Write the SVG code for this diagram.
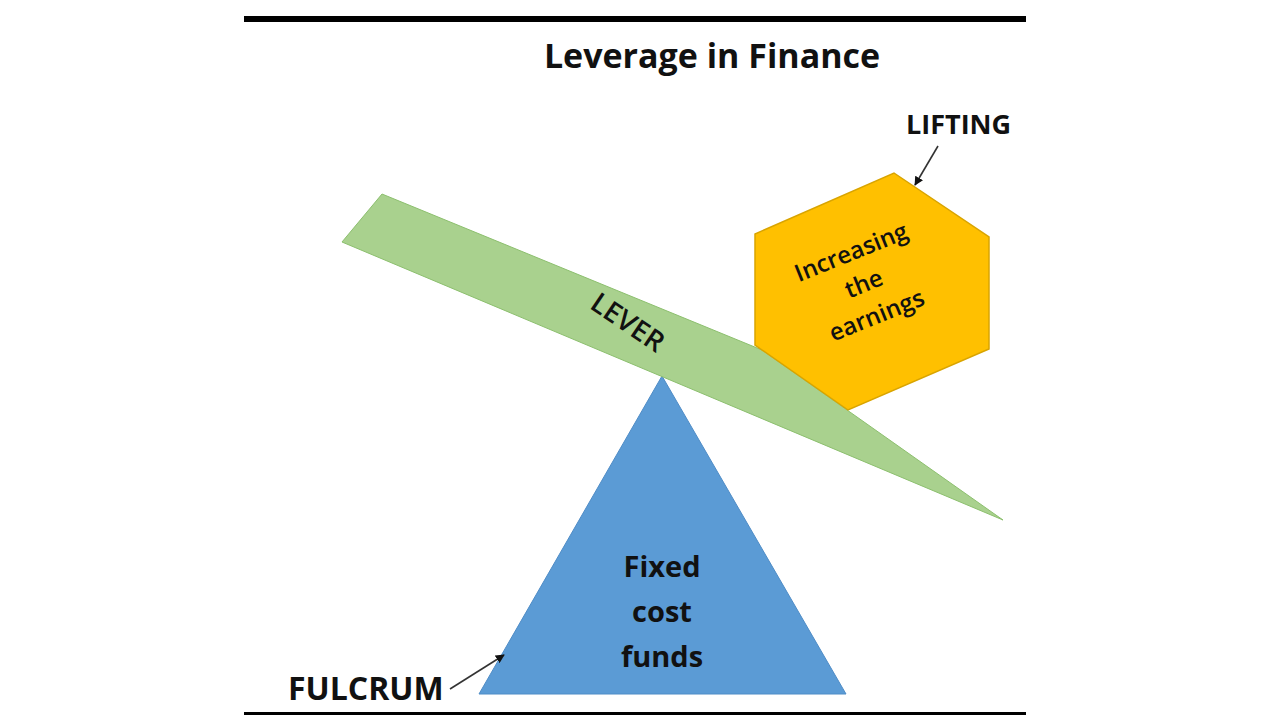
<svg xmlns="http://www.w3.org/2000/svg" width="1280" height="720" viewBox="0 0 1280 720">
<defs>
<style>
.t{font-family:"Open Sans","Liberation Sans",sans-serif;fill:#111;}
.b{font-weight:700;}
.m{font-weight:600;}
.c{text-anchor:middle;}
.conn{stroke:#333;stroke-width:1.6;fill:none;marker-end:url(#ah);}
</style>
<marker id="ah" viewBox="0 0 10 10" refX="9" refY="5" markerWidth="9" markerHeight="9" markerUnits="userSpaceOnUse" orient="auto">
<path d="M0,0 L10,5 L0,10 z" fill="#111"/>
</marker>
</defs>
<rect width="1280" height="720" fill="#fff"/>
<rect x="244" y="16" width="782" height="6" fill="#000"/>
<rect x="244" y="712" width="782" height="3" fill="#000"/>
<text class="t b c" x="712" y="68" font-size="34">Leverage in Finance</text>

<g id="fulcrum">
<polygon points="662,376 479,694 846,694" fill="#5B9BD5" stroke="#4F8CC6" stroke-width="1"/>
<text class="t b c" font-size="29" x="662" y="577">Fixed</text>
<text class="t b c" font-size="29" x="662" y="622">cost</text>
<text class="t b c" font-size="29" x="662" y="667">funds</text>
</g>

<g id="lever">
<polygon points="382,194 762,350 1003,520 342,242" fill="#A9D18E" stroke="#8CBF6E" stroke-width="1"/>
<text class="t m c" font-size="28" transform="translate(628,322) rotate(34)" y="10">LEVER</text>
</g>

<g id="earnings">
<polygon points="894,173 989,237 989,349 848,410 755,345 755,234" fill="#FFC000" stroke="#D9A400" stroke-width="1.5"/>
<g transform="translate(864,284) rotate(-22)">
<text class="t m c" font-size="24" y="-26">Increasing</text>
<text class="t m c" font-size="24" y="8">the</text>
<text class="t m c" font-size="24" y="42">earnings</text>
</g>
</g>

<g id="lifting-label">
<text class="t b" font-size="27" x="906" y="134">LIFTING</text>
</g>
<g id="fulcrum-label">
<text class="t b" font-size="32" x="288" y="700">FULCRUM</text>
</g>

<g id="connectors">
<line class="conn" x1="938" y1="146" x2="915" y2="185"/>
<line class="conn" x1="450" y1="689" x2="504" y2="655"/>
</g>
</svg>
